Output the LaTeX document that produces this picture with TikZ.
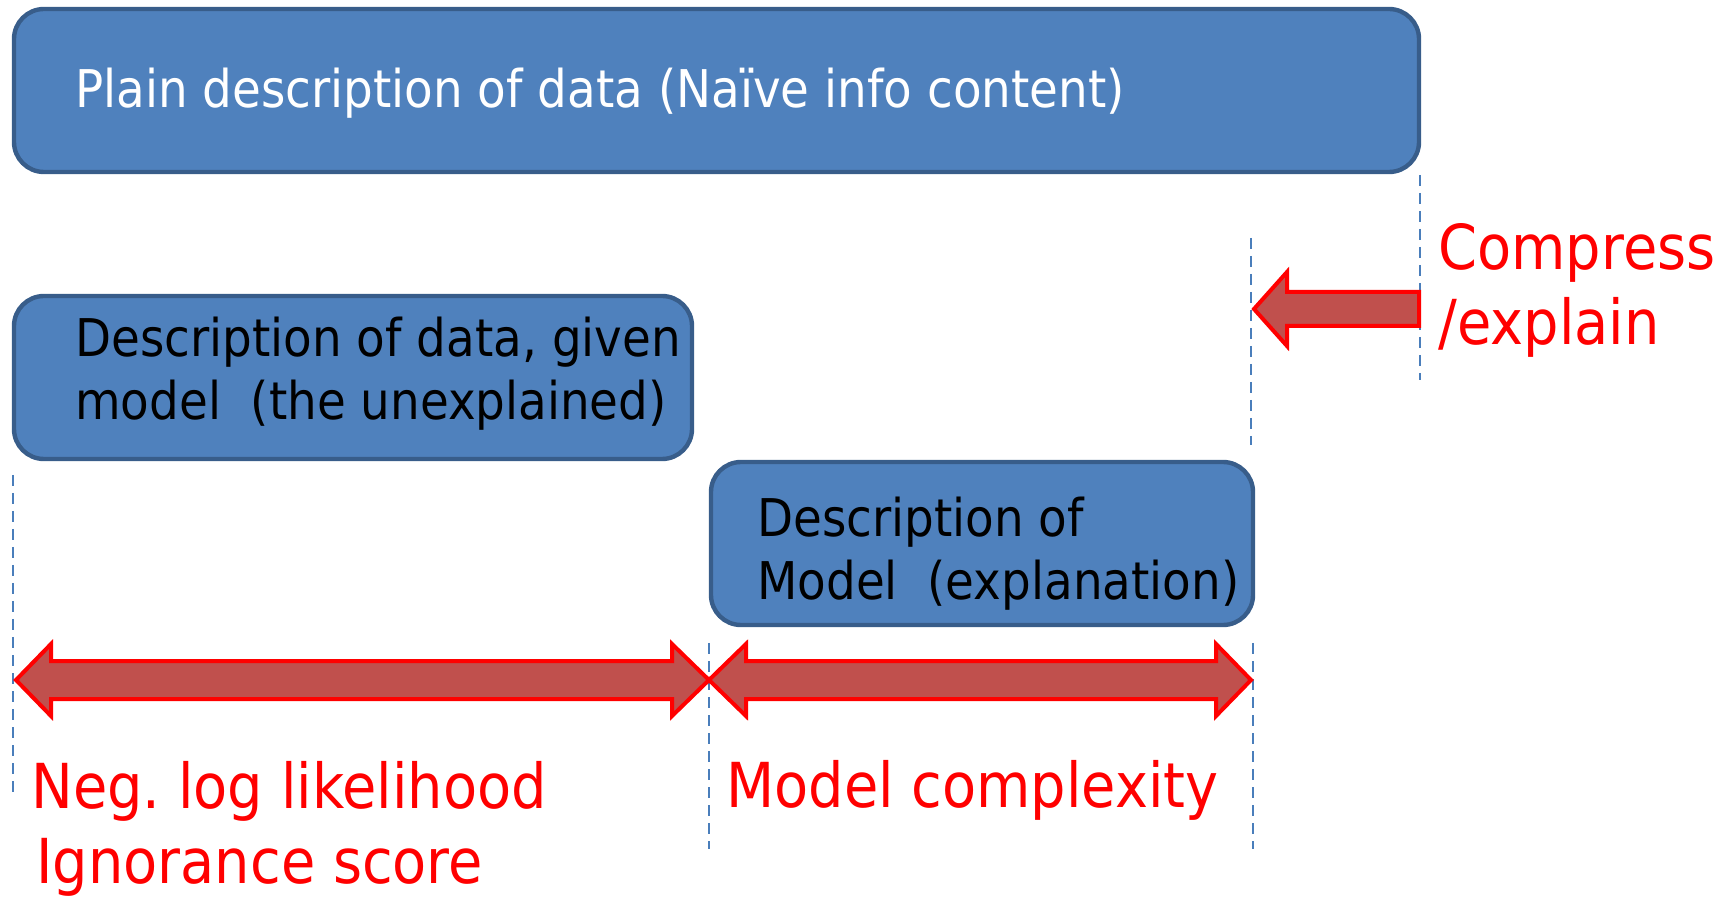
\documentclass[tikz,border=0pt]{standalone}
\usepackage{fontspec}
\setmainfont{DejaVu Sans}[FakeStretch=0.9]
\frenchspacing
\definecolor{boxfill}{HTML}{4F81BD}
\definecolor{boxedge}{HTML}{385D8A}
\definecolor{arrowfill}{HTML}{C0504D}
\definecolor{guideblue}{HTML}{4A7EBB}
\begin{document}
\begin{tikzpicture}[x=0.5pt,y=-0.5pt,
  blk/.style={draw=boxedge, fill=boxfill, line width=2.2pt, rounded corners=15pt,
              inner sep=0pt, minimum height=81.5pt},
  bar/.style={draw=red, fill=arrowfill, line width=2pt, line join=miter},
  guide/.style={draw=guideblue, line width=1.4pt, dash pattern=on 5.5pt off 3.5pt},
  boxtext/.style={anchor=base west, inner sep=0pt, font=\fontsize{26}{31.5}\selectfont},
  redtext/.style={anchor=base west, inner sep=0pt, text=red, font=\fontsize{31}{37.5}\selectfont}]
\useasboundingbox (0,0) rectangle (1724,897);

% blue boxes
\node[blk, minimum width=702.5pt] (plain) at (716.5,90.5) {};
\node[blk, minimum width=339pt] (given) at (353,377.5) {};
\node[blk, minimum width=271pt] (model) at (982,543.5) {};

\node[boxtext, text=white] (plaintxt) at (75,108)
  {Plain description of data (Naïve info content)};
\node[boxtext] (giventxt) at (75,357)
  {\begin{tabular}[t]{@{}l@{}}Description of data, given\\model\ \ (the unexplained)\end{tabular}};
\node[boxtext] (modeltxt) at (757,537)
  {\begin{tabular}[t]{@{}l@{}}Description of\\Model\ \ (explanation)\end{tabular}};

% dashed guide lines
\draw[guide] (1420,175) -- (1420,380);
\draw[guide] (1251,238) -- (1251,445);
\draw[guide] (13,475) -- (13,793);
\draw[guide] (709,643) -- (709,849);
\draw[guide] (1253,643) -- (1253,849);

% compress arrow
\draw[bar] (1254,309) -- (1287,272) -- (1287,292) -- (1419,292) -- (1419,326)
  -- (1287,326) -- (1287,346) -- cycle;

% width arrows
\draw[bar] (16,680) -- (51,644) -- (51,661) -- (672,661) -- (672,644) -- (709,680)
  -- (672,716) -- (672,699) -- (51,699) -- (51,716) -- cycle;
\draw[bar] (709,680) -- (746,644) -- (746,661) -- (1216,661) -- (1216,644) -- (1251,680)
  -- (1216,716) -- (1216,699) -- (746,699) -- (746,716) -- cycle;

% labels
\node[redtext] (compress) at (1438,270)
  {\begin{tabular}[t]{@{}l@{}}Compress\\/explain\end{tabular}};
\node[redtext] (nll) at (31,808)
  {\begin{tabular}[t]{@{}l@{}}Neg. log likelihood\\\hspace{2.5pt}Ignorance score\end{tabular}};
\node[redtext] (cplx) at (726,807) {Model complexity};
\end{tikzpicture}
\end{document}
